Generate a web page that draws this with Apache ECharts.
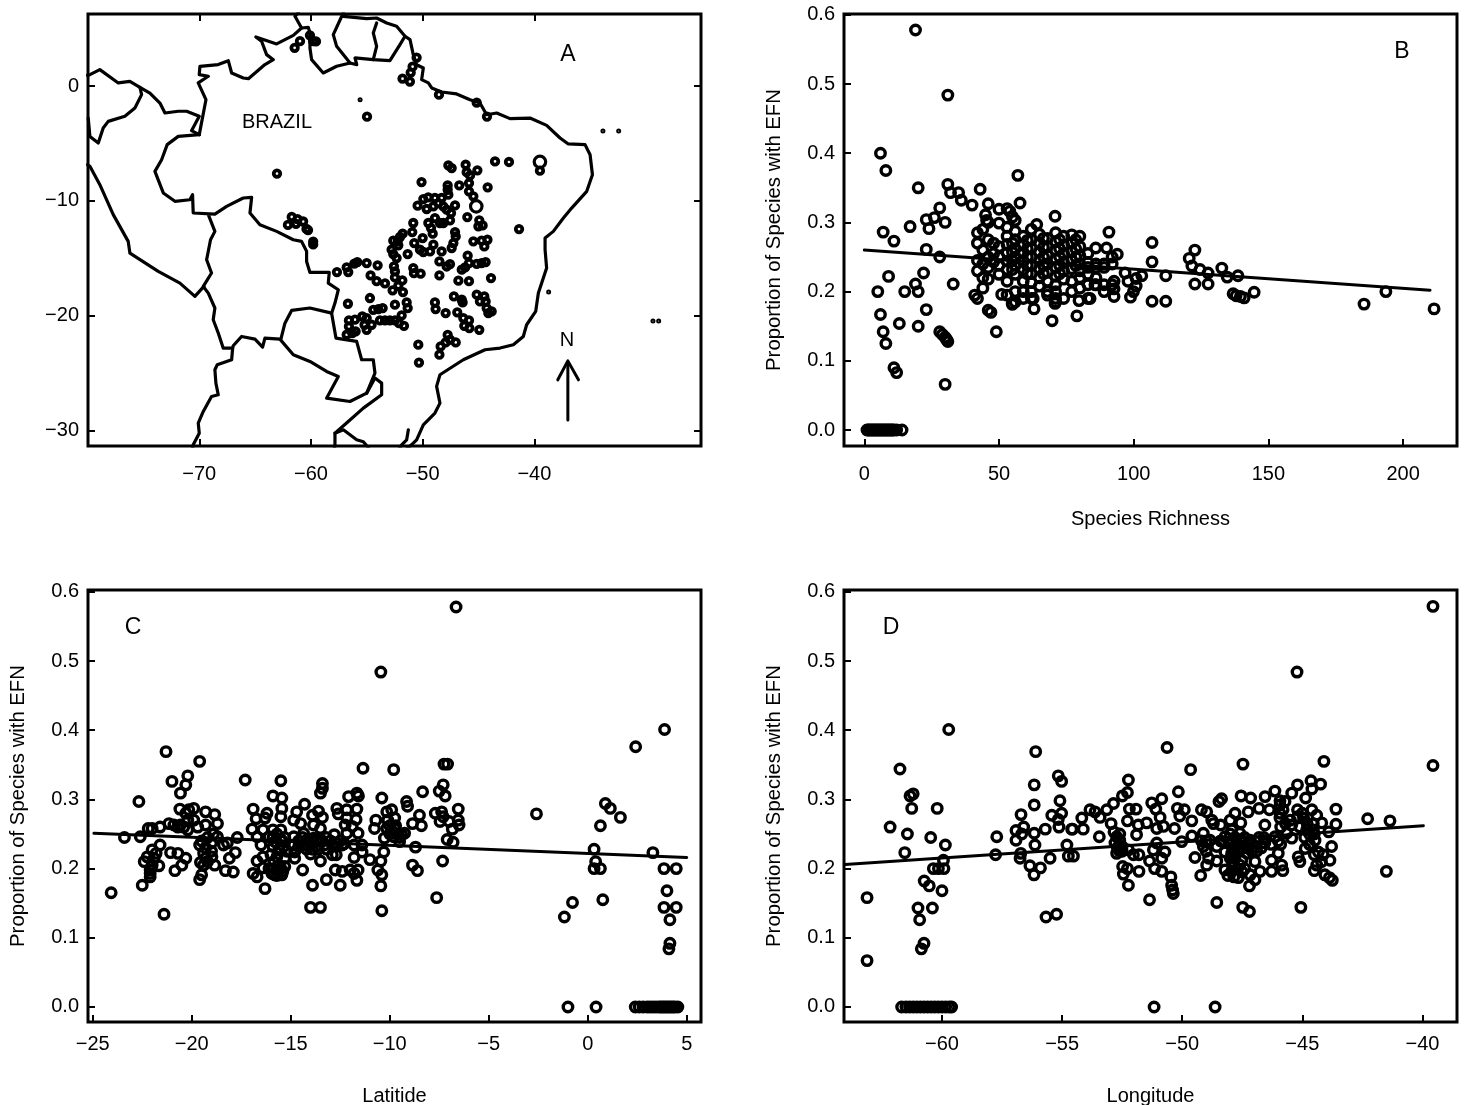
<!DOCTYPE html>
<html><head><meta charset="utf-8">
<style>html,body{margin:0;padding:0;background:#fff}#c{width:1468px;height:1105px}</style>
<script src="https://cdn.jsdelivr.net/npm/echarts@6/dist/echarts.min.js"></script>
</head><body><div id="c"></div>
<script>
// ---------- tick labels ----------
const mapLonTicks=[-70,-60,-50,-40];
const mapLatTicks=[-30,-20,-10,0];
const propTicks=[0,0.1,0.2,0.3,0.4,0.5,0.6];
const richTicks=[0,50,100,150,200];
const latTicks=[-25,-20,-15,-10,-5,0,5];
const lonTicks=[-60,-55,-50,-45,-40];

// ---------- panel A: borders [lon,lat] ----------
const borderNorth=[[-70,-4.23],[-69.4,-1.18],[-70.09,.28],[-69.19,.86],[-70,1],[-69.94,1.73],[-68.3,1.88],[-67.4,2.22],[-67.1,1.15],[-66.06,.71],[-65.6,.65],[-64.12,1.88],[-63.37,2.31],[-63.97,2.75],[-64.42,3.91],[-64.93,4.29],[-63.07,3.68],[-61.58,4.43],[-60.84,5.07],[-61.43,6.09],[-61.13,6.4]];
const borderGuiana=[[-60.84,5.07],[-60.24,5.13],[-60.09,4.64],[-60.09,3.33],[-59.94,2.31],[-58.9,1.15],[-57.7,1.73],[-56.5,2.02],[-55.9,1.87],[-56.06,2.46],[-54.42,2.31],[-52.93,2.22],[-52.03,3.62],[-51.58,4.35]];
const borderGuyanaSuriname=[[-57.1,6.4],[-58,4.49],[-57.7,3.47],[-56.5,2.02]];
const borderSurinameFG=[[-54.42,2.31],[-54.12,3.47],[-54.42,4.64],[-54.12,5.51]];
const coastAtlantic=[[-57.1,6.09],[-55.01,5.89],[-54.12,5.94],[-53.22,5.51],[-52.33,5.22],[-51.58,4.35],[-51.13,4.06],[-50.84,2.75],[-50.54,1.87],[-49.94,1.58],[-50.09,.57],[-49.49,.28],[-49.19,-.16],[-48.3,-.51],[-46.96,-.68],[-45.76,-1.18],[-44.87,-1.47],[-44.27,-2.49],[-43.37,-2.34],[-42.18,-2.83],[-40.39,-2.78],[-38.9,-3.42],[-37.7,-4.52],[-36.96,-5.04],[-35.46,-5.1],[-35.01,-5.98],[-34.8,-7.72],[-35.31,-9.17],[-36.66,-10.63],[-37.4,-11.5],[-38.3,-12.66],[-39.04,-13.24],[-39.04,-14.26],[-38.9,-15.86],[-39.64,-18.04],[-39.88,-19.64],[-40.69,-20.8],[-40.99,-21.82],[-41.88,-22.54],[-43.07,-22.83],[-44.42,-22.98],[-46.36,-23.85],[-48.45,-25.16],[-48.75,-26.17],[-48.45,-27.63],[-48.9,-28.5],[-49.94,-29.52],[-50.54,-30.83],[-51,-31.27],[-51.73,-31.85]];
const coastLagoon=[[-51.28,-29.96],[-51.43,-30.83],[-51.88,-31.27],[-52.2,-31.8]];
const borderPeruColombia=[[-70,-4.23],[-70.69,-3.88],[-70,-2.63],[-71.13,-2.19],[-71.88,-2.19],[-73.07,-2.34],[-73.52,-1.47],[-74.42,-.6],[-75.31,-.1],[-76.21,.42],[-77.25,.28],[-78.9,1.44],[-79.79,1],[-80,.94]];
const borderEcuador=[[-75.31,-.1],[-75.16,-.74],[-75.76,-1.9],[-76.66,-2.63],[-78.15,-3.07],[-78.6,-3.65],[-79.04,-4.96],[-79.79,-4.38],[-79.94,-2.78]];
const borderWestBrazil=[[-70,-4.23],[-71.88,-4.38],[-72.87,-5.1],[-73.37,-6.41],[-73.97,-7.43],[-73.22,-9.31],[-72.18,-10.04],[-70.84,-9.9],[-70.6,-9.46],[-70.54,-11.06],[-68.6,-11.15],[-67.55,-10.48],[-66.06,-9.75],[-65.31,-9.69],[-65.46,-11.06],[-64.57,-12.08],[-63.07,-12.66],[-61.58,-13.39],[-60.84,-13.53],[-60.39,-14.4],[-60.39,-15.28],[-60.09,-16.24],[-58.36,-16.24],[-58.45,-17.17],[-57.55,-17.75],[-57.85,-18.91],[-58.15,-19.79],[-57.76,-21.96],[-55.91,-22.25],[-55.46,-23.85],[-54.42,-23.85],[-54.27,-25.01],[-55.01,-26.76],[-56.51,-27.49],[-58.6,-27.2],[-57.55,-25.31],[-58.6,-24.87],[-60.09,-24],[-61.58,-23.41],[-62.78,-22.05],[-64.12,-21.96],[-64.33,-22.75],[-65.01,-22.05],[-66.21,-21.82],[-66.96,-22.63],[-67.01,-22.84],[-67.85,-22.84],[-68.3,-21.52],[-68.75,-20.36],[-68.6,-19.34],[-69.19,-18.04],[-69.64,-17.46],[-68.9,-16.29],[-69.34,-15.13],[-68.99,-13.39],[-68.6,-12.66],[-69.19,-11.2]];
const borderChile=[[-67.01,-22.84],[-67.1,-23.85],[-68.39,-24.29],[-68.6,-24.72],[-68.51,-25.89],[-68.3,-26.9],[-68.9,-27.05],[-69.64,-28.36],[-70.09,-29.37],[-70,-30.25],[-70.54,-31.27],[-70.69,-32]];
const coastPeru=[[-80,-6.85],[-79.79,-6.99],[-78.9,-8.59],[-77.7,-11.2],[-76.36,-13.53],[-76.21,-14.55],[-73.67,-16.15],[-71.73,-17.17],[-70.39,-18.33],[-69.58,-17.46]];
const borderParaguay=[[-58.15,-19.79],[-60.09,-19.34],[-61.73,-19.55],[-62.33,-20.66],[-62.69,-22.05]];
const borderMisiones=[[-55.01,-26.76],[-54.27,-25.45],[-53.67,-25.89],[-53.67,-26.9],[-55.31,-28.07],[-56.81,-29.37],[-57.85,-30.25],[-57.85,-31.27],[-57.94,-31.7]];
const borderUruguay=[[-57.85,-30.25],[-57.1,-29.96],[-55.91,-30.83],[-55.31,-31],[-54.87,-31.5]];
const northArrowShaft=[[-37,-29.1],[-37,-24.2]];
const northArrowHead=[[-37.9,-25.6],[-37,-23.95],[-36.05,-25.6]];

// ---------- panel A: study sites [lon,lat] ----------
const mapSites=[[-47.7,-6.9],[-47.4,-7.14],[-46.15,-6.85],[-46.06,-7.5],[-45.76,-7.78],[-45.1,-7.34],[-43.52,-6.56],[-42.27,-6.61],[-44.18,-8.82],[-50.1,-8.36],[-46.72,-8.65],[-47.76,-8.65],[-47.76,-9.03],[-47.7,-9.46],[-45.85,-8.45],[-45.85,-9.17],[-45.46,-9.6],[-50.45,-10.42],[-49.94,-9.84],[-49.5,-9.7],[-48.9,-9.75],[-48.3,-9.75],[-48.6,-10.2],[-48.15,-10.48],[-49.64,-10.71],[-49.04,-10.48],[-47.85,-10.77],[-47.46,-11.06],[-47.1,-10.4],[-46,-11.41],[-44.93,-11.7],[-44.63,-12.14],[-45.01,-12.22],[-41.37,-12.46],[-50.84,-11.93],[-50.93,-12.72],[-51.79,-12.86],[-52.03,-13.15],[-52.63,-13.47],[-52.24,-13.53],[-52.18,-13.88],[-50,-13.24],[-50.75,-13.68],[-51.34,-14.64],[-52.78,-14.26],[-52.63,-14.64],[-52.33,-14.99],[-50.24,-14.26],[-49.94,-14.46],[-49.34,-14.41],[-49.04,-13.82],[-49.1,-12.86],[-49.25,-12.37],[-49.49,-11.93],[-48.9,-11.5],[-48.45,-11.93],[-47.55,-11.7],[-48.15,-11.93],[-47.1,-12.72],[-47.04,-13.1],[-47.25,-13.68],[-47.4,-14.11],[-48.3,-14.41],[-45.46,-13.53],[-44.72,-13.47],[-44.2,-13.39],[-44.48,-13.97],[-45.97,-14.78],[-48.5,-15.28],[-47.85,-15.72],[-47.55,-15.51],[-48.5,-16.5],[-46.5,-16],[-46.2,-15.8],[-45.85,-15.42],[-45.16,-15.5],[-44.72,-15.42],[-44.36,-15.34],[-46.8,-16.96],[-45.85,-17],[-43.88,-16.73],[-47.2,-18.33],[-46.5,-18.62],[-46.42,-18.85],[-45.16,-18.18],[-44.48,-18.33],[-44.87,-18.77],[-44.36,-18.77],[-44.27,-19.35],[-43.82,-19.64],[-44.12,-19.78],[-48.9,-18.85],[-48.84,-19.43],[-47.94,-19.78],[-46.9,-19.72],[-46.36,-20.22],[-45.85,-20.42],[-46.27,-20.89],[-45.82,-21.09],[-44.93,-21.24],[-47.76,-21.68],[-47.55,-22.1],[-47.94,-22.34],[-47.04,-22.34],[-48.39,-22.69],[-48.5,-23.41],[-50.39,-22.54],[-50.33,-24.1],
[-57.67,-16.21],[-56.8,-15.8],[-56.66,-16.21],[-56.12,-15.48],[-55.85,-15.34],[-55.01,-15.42],[-54.03,-15.62],[-54.66,-16.5],[-54.12,-17],[-53.37,-17.2],[-52.57,-15.71],[-52.48,-16.15],[-52.48,-16.67],[-51.82,-16.94],[-52.18,-17.4],[-52.69,-17.8],[-51.76,-17.95],[-50.84,-15.86],[-50.78,-16.3],[-50.18,-16.35],[-56.69,-18.97],[-54.72,-18.47],[-54.42,-19.5],[-53.97,-19.43],[-53.58,-19.35],[-52.48,-19.05],[-51.43,-18.85],[-51.34,-19.35],[-51.88,-19.99],[-53.82,-20.42],[-53.37,-20.42],[-52.93,-20.42],[-52.48,-20.42],[-52.12,-20.65],[-51.67,-20.89],[-56.6,-20.42],[-56.06,-20.36],[-56.6,-20.95],[-55.4,-20.07],[-55.01,-20.22],[-55.2,-20.8],[-54.57,-20.8],[-55.01,-21.24],[-56,-21.38],[-56.8,-21.67],[-56.3,-21.53],
[-61.46,3.34],[-60.98,3.92],[-60.09,4.43],[-59.8,3.92],[-59.55,3.9],[-54.98,-2.66],[-63.04,-7.62],[-61.72,-11.4],[-61.2,-11.6],[-60.7,-11.8],[-61.34,-12],[-62.06,-12.1],[-60.4,-12.45],[-60.26,-12.55],[-59.8,-13.55],[-59.8,-13.8],
[-50.54,2.49],[-50.9,1.7],[-51.07,1.18],[-51.8,.65],[-51.14,.4],[-48.54,-.74],[-45.16,-1.44],[-44.24,-2.65],[-39.5,-7.37]];
const mapSitesLarge=[[-39.5,-6.6],[-45.2,-10.48]];
const mapSitesTiny=[[-55.6,-1.18],[-33.86,-3.9],[-32.45,-3.9],[-38.72,-17.95],[-29.38,-20.47],[-28.87,-20.47]];

// ---------- panel B: proportion vs richness ----------
const richZero=[1,1.5,2,2.5,3,3.5,4,4.5,5,5.5,6,6.5,7,7.5,8,8.5,9,9.5,10,10.5,11,12,14];
const richOutliers=[[19,.578],[31,.484],[6,.4],[8,.375],[57,.368],[20,.35],[31,.355],[32,.343],[35,.343],[36,.332],[40,.325],[43,.348],[46,.327],[57.8,.328],[28,.321],[50,.319],[53,.32],[54,.316],[55,.308],[45,.311],[45.4,.303],[50,.299],[56,.303],[70.8,.309],[23,.304],[26,.307],[30,.3],[24,.291],[17,.294],[7,.286],[11,.273],[23,.261],[28,.25],[9,.222],[5,.2],[15,.2],[19,.211],[20,.2],[22,.227],[33,.211],[6,.167],[7,.142],[8,.125],[13,.154],[20,.15],[23,.174],[11,.09],[12,.083],[30,.066],[28,.142],[29,.138],[30,.134],[30.5,.131],[31,.128],[49,.142],[41,.195],[42,.19],[46,.173],[47,.17],[44,.205],[46,.218],[51,.196],[55,.182],[63,.175],[69.7,.158],[78.9,.165],[70.8,.183],[90.8,.286],[106.8,.271],[106.8,.243],[106.8,.186],[64,.297],[122.7,.26],[120.6,.248],[121.6,.237],[124.6,.232],[127.6,.227],[132.7,.234],[134.7,.221],[138.7,.223],[111.9,.223],[122.7,.211],[127.6,.211],[111.9,.186],[136.9,.197],[138,.194],[139.6,.193],[141,.191],[144.7,.199],[185.5,.182],[193.6,.2],[211.5,.175],[96.8,.227],[103,.223],[100.9,.219],[97.9,.215],[100.9,.208],[99.9,.2],[98.8,.192],[92.7,.193],[92.7,.204],[92.7,.215],[93.9,.254],[85.9,.263],[89.9,.263],[54.9,.182],[62.7,.19],[79.7,.187],[83.8,.19],[85.6,.21]];
const richDense=[[42,[.285,.27,.245,.23]],[44,[.29,.26,.24,.22]],[46,[.3,.275,.25,.235]],[48,[.27,.255,.243]],[50,[.265,.25,.238,.225]],[53,[.293,.28,.268,.256,.244,.232,.215,.195]],[55,[.27,.257,.245,.232]],[56,[.287,.275,.262,.25,.238,.225,.2,.185]],[59,[.28,.268,.256,.244,.232,.215,.2,.19]],[60.5,[.274,.262,.25,.238,.226]],[62,[.29,.275,.263,.25,.238,.226,.213,.2,.19]],[65,[.283,.27,.257,.245,.233,.22,.208]],[66.5,[.277,.264,.25,.238,.226]],[68,[.277,.265,.252,.24,.228,.215,.2,.195]],[71,[.285,.272,.26,.247,.235,.222,.21,.2,.19,.185]],[72.5,[.275,.262,.25,.238,.226]],[74,[.28,.267,.255,.242,.23,.218,.19]],[77,[.282,.27,.258,.245,.233,.215,.2]],[78.5,[.275,.262,.25,.238]],[80,[.28,.265,.252,.24,.23,.22,.205]],[83,[.255,.242,.235,.225,.21,.19]],[86,[.24,.235,.22,.21]],[89,[.24,.235,.21,.2]],[92,[.25,.24,.21]]];
const richFitLine=[[0,.26],[210,.202]];

// ---------- panel C: proportion vs latitude ----------
const latPoints=[[-6.65,.578],[-10.45,.484],[3.88,.401],[2.42,.376],[-2.59,.279],[.89,.294],[1.14,.287],[1.65,.274],[.64,.262],[.32,.228],[.4,.21],[.32,.2],[.64,.2],[3.29,.223],[3.85,.2],[4.47,.2],[4,.168],[3.85,.144],[4.47,.144],[4.15,.126],[4.15,.092],[4.1,.084],[-.77,.151],[-1.18,.13],[.76,.155],
[-24.07,.165],[-23.4,.245],[-22.67,.297],[-22.5,.176],[-22.6,.246],[-22.2,.258],[-22,.258],[-21.6,.26],[-21.3,.369],[-21.4,.134],[-21,.326],[-20.2,.334],[-20.3,.321],[-20.57,.309],[-20.6,.286],[-20.15,.285],[-19.9,.287],[-19.6,.355],[-19.3,.282],[-18.84,.278],[-18.7,.265],[-21.15,.265],[-20.9,.263],[-20.57,.263],[-20.2,.256],[-19.7,.26],[-19.3,.263],[-22.4,.21],[-22.1,.198],[-22.1,.188],[-22.1,.193],[-22.25,.217],[-22,.227],[-21.6,.234],[-21.66,.204],[-21.07,.223],[-20.7,.222],[-20.3,.215],[-20.5,.205],[-20.85,.197],[-19.6,.234],[-19.4,.222],[-19.56,.209],[-19.3,.215],[-18.84,.205],[-18.98,.217],[-18.3,.197],[-17.9,.195],[-19.5,.191],[-19.6,.184],[-18.1,.215],[-17.8,.223],[-18.4,.234],[-18.2,.237],[-18.7,.246],[-19,.237],[-17.7,.245],[-17.3,.328],[-16.9,.286],[-16.75,.272],[-16.95,.257],[-16.7,.246],[-16.5,.234],[-16.7,.211],[-16.9,.193],[-16.7,.188],[-16.3,.171],[-16.4,.201],[-16.2,.28],[-16.3,.273],[-15.9,.305],[-15.5,.327],[-15.45,.302],[-15.45,.287],[-15.5,.275],[-16.4,.256],[-15.9,.256],[-15.5,.256],[-16.1,.246],[-15.8,.239],[-15.45,.241],[-15.9,.232],[-15.6,.227],[-15.36,.232],[-16.4,.217],[-16,.22],[-15.7,.217],[-15.95,.193],[-15.7,.198],[-15.45,.191],[-15.3,.203],[-15.8,.191],[-14.8,.215],[-14.4,.198],[-13.9,.176],[-14,.144],[-13.5,.144],[-13.2,.184],[-12.5,.176],[-13.4,.323],[-13.4,.316],[-13.5,.309],[-14.3,.293],[-14.7,.282],[-13.9,.277],[-13.6,.283],[-13.4,.274],[-14.85,.27],[-14.5,.265],[-13.85,.263],[-13.5,.258],[-14.85,.246],[-14.35,.251],[-14.2,.241],[-13.85,.244],[-13.5,.241],[-14.85,.234],[-14.35,.234],[-14,.234],[-13.7,.232],[-13.3,.234],[-14.8,.224],[-14,.221],[-13.5,.211],[-12.8,.249],[-12.7,.237],[-12.4,.234],[-12.9,.22],[-12.7,.22],[-12.75,.198],[-12.4,.196],[-12.67,.287],[-12.6,.279],[-12.08,.304],[-11.66,.309],[-11.58,.305],[-12.17,.285],[-11.66,.286],[-12.17,.273],[-11.7,.271],[-12.25,.263],[-11.9,.261],[-12.17,.251],[-11.6,.251],[-11.8,.234],[-11.4,.234],[-11.8,.216],[-11.4,.224],[-12,.198],[-11.6,.198],[-11.8,.193],[-11.66,.183],[-11,.213],[-11.35,.345],[-10.4,.302],[-10.7,.27],[-10.77,.258],[-10.6,.198],[-10.45,.211],[-10.4,.191],[-10.45,.175],[-10.4,.139],[-10.3,.224],[-10.27,.244],[-10.15,.282],[-9.9,.285],[-9.8,.343],[-10.1,.27],[-9.75,.273],[-10.15,.258],[-9.75,.258],[-9.8,.246],[-9.4,.249],[-9.5,.239],[-9.25,.251],[-9.15,.297],[-9.1,.29],[-8.85,.265],[-8.5,.277],[-8.4,.262],[-8.34,.311],[-8.7,.231],[-8.85,.205],[-8.6,.197],[-7.7,.28],[-7.5,.312],[-7.3,.321],[-7.2,.305],[-7.26,.351],[-7.08,.351],[-7.38,.282],[-7.3,.275],[-7.46,.268],[-7,.268],[-6.54,.286],[-6.54,.27],[-6.5,.263],[-6.84,.257],[-7.1,.242],[-6.8,.238],[-7.33,.211],[-7.63,.158],
[-15.9,.245],[-15.7,.25],[-15.5,.24],[-15.3,.245],[-15.2,.225],[-15.3,.215],[-15.6,.205],[-15.85,.21],[-15.5,.2],[-15.7,.19],[-15.4,.196],[-15.9,.2],[-16.1,.2],[-14.6,.24],[-14.4,.245],[-14.1,.24],[-13.9,.24],[-13.7,.24],[-13.4,.24],[-13.2,.245],[-13,.24],[-12.9,.235],[-14.6,.232],[-14.2,.228],[-13.9,.228],[-13.6,.228],[-13.2,.228],[-12.5,.24],[-12.3,.236],[-19.5,.24],[-19.2,.245],[-19,.225],[-19.3,.23],[-18.9,.25],[-19.2,.21],[-19.4,.205],[-22,.205],[-21.9,.215],[-21.8,.222],[-10,.25],[-9.9,.255],[-9.6,.25],[-9.7,.262],[-9.5,.245],[-10,.262],[-20.7,.26],[-20.4,.26],[-20.2,.27],[-20.3,.28],[-19.9,.27]];
const latZero=[-1,.42,2.4,2.6,2.8,3,3.15,3.3,3.45,3.6,3.7,3.8,3.9,4,4.1,4.2,4.3,4.4,4.55];
const latFitLine=[[-24.94,.251],[5,.216]];

// ---------- panel D: proportion vs longitude ----------
const lonPoints=[[-45.22,.484],[-39.56,.579],[-39.56,.349],[-50.63,.375],[-59.72,.401],[-61.75,.344],[-61.33,.305],[-61.2,.308],[-61.26,.287],[-60.2,.287],[-62.16,.26],[-61.44,.25],[-60.47,.245],[-59.86,.234],[-61.55,.223],[-59.94,.212],[-60.36,.2],[-60.15,.2],[-59.92,.2],[-60.74,.182],[-60.53,.175],[-60,.168],[-61,.143],[-60.4,.143],[-60.93,.126],[-60.75,.092],[-60.86,.084],[-63.12,.158],[-63.12,.067],[-57.77,.22],[-57.72,.246],[-56.1,.369],[-56.16,.321],[-56.16,.292],[-56.71,.278],[-56.6,.26],[-56.92,.255],[-56.92,.241],[-56.68,.25],[-56.16,.251],[-56.13,.234],[-56.72,.222],[-56.75,.215],[-56.34,.204],[-55.9,.201],[-56.17,.191],[-55.5,.215],[-55.67,.13],[-55.23,.134],[-55.7,.257],[-55.43,.277],[-55.09,.298],[-55.16,.334],[-55.02,.326],[-55.02,.28],[-55.16,.271],[-55.13,.26],[-54.6,.257],[-54.8,.234],[-54.74,.218],[-54.53,.218],
[-54.57,.257],[-54.12,.257],[-54.18,.273],[-53.84,.285],[-53.63,.282],[-53.42,.274],[-53.14,.285],[-52.86,.294],[-52.49,.305],[-52.28,.31],[-52.24,.328],[-52.2,.286],[-51.92,.286],[-52.28,.269],[-52.96,.265],[-53.45,.246],[-52.84,.253],[-52.73,.246],[-52.6,.241],[-52.8,.237],[-52.5,.232],[-52.73,.222],[-52.24,.227],[-52.03,.22],[-51.8,.22],[-51.36,.211],[-52.48,.203],[-52.28,.2],[-52.45,.192],[-51.8,.196],[-52.24,.176],[-51.36,.155],[-51.9,.249],[-51.83,.263],[-51.48,.266],[-51.27,.295],[-50.85,.301],[-51.1,.286],[-50.92,.274],[-51.06,.258],[-50.78,.261],[-50.32,.258],[-50.16,.311],[-49.65,.343],[-50.2,.287],[-49.91,.285],[-50.1,.276],[-49.6,.269],[-49.6,.247],[-50.02,.239],[-51.06,.237],[-51.2,.227],[-50.72,.224],[-50.85,.215],[-51.15,.2],[-50.85,.196],[-50.47,.188],[-50.44,.176],[-50.4,.169],[-50.37,.164],[-49.47,.216],[-49.23,.19],[-48.9,.215],[-48.98,.205],[-48.56,.151],[-47.48,.144],[-47.2,.138],[-45.06,.144],[-41.5,.196],[-42.28,.272],[-41.35,.269],[-43.6,.286],[-43.6,.264],[-44.1,.355],[-44.24,.322],[-44.64,.327],[-44.6,.315],[-45.2,.321],[-45.44,.309],[-44.86,.302],[-46.14,.312],[-46.55,.304],[-47.15,.302],[-47.55,.305],[-47.47,.351],[-48.36,.301],[-48.47,.297],[-49.2,.285],[-48.98,.282],[-48.77,.27],[-47.8,.28],[-47.25,.282],[-46.8,.287],[-46.37,.285],[-45.93,.298],[-45.72,.297],[-45.2,.285],[-44.6,.285],[-44.4,.277],[-44.19,.266],[-47.56,.266],[-48.7,.265],[-48.4,.263],[-48,.27],[-46.56,.263],[-45.93,.273],[-45.44,.263],[-44.95,.273],[-44.54,.265],[-43.9,.253],[-44.82,.256],
[-49.12,.251],[-48.84,.241],[-49.12,.232],[-48.56,.232],[-48.22,.246],[-47.94,.256],[-47.6,.251],[-48,.237],[-47.73,.234],[-47.45,.239],[-47.17,.241],[-46.9,.239],[-47,.232],[-46.56,.237],[-48.22,.224],[-47.94,.222],[-47.6,.227],[-47.3,.222],[-48.56,.211],[-47.9,.21],[-47.52,.212],[-46.97,.21],[-48.22,.198],[-47.94,.196],[-47.66,.187],[-47.17,.191],[-46.97,.184],[-47.2,.175],[-46.76,.196],[-46.28,.196],[-46.28,.212],[-46,.222],[-45.86,.205],[-45.81,.197],[-46.14,.246],[-45.65,.251],[-45.44,.244],[-45.17,.217],[-45.1,.21],[-44.88,.229],[-44.47,.241],[-44.33,.224],[-44.13,.22],[-44.2,.21],[-43.85,.212],[-43.78,.232],[-44.5,.197],[-44.06,.191],[-43.87,.187],[-43.75,.183],[-44.54,.256],[-45.93,.292],[-45.93,.28],
[-48,.25],[-47.8,.245],[-47.6,.24],[-47.4,.245],[-47.2,.235],[-47.9,.23],[-47.7,.225],[-47.5,.23],[-47.3,.23],[-47.1,.225],[-46.9,.225],[-46.7,.23],[-48,.215],[-47.8,.215],[-47.6,.205],[-47.4,.2],[-47.7,.2],[-47.9,.205],[-48.1,.19],[-47.85,.188],[-47.5,.195],[-47.9,.24],[-46.6,.245],[-46.8,.245],[-48.4,.24],[-49,.24],[-49.2,.24],[-49,.225],[-52.6,.225],[-52.7,.23],[-52.5,.225],[-52.6,.25],[-45.9,.26],[-45.7,.265],[-45.5,.27],[-45.8,.285],[-45.2,.275],[-45,.28],[-45.1,.26],[-44.8,.265],[-44.7,.25],[-44.5,.25],[-44.9,.245],[-44.7,.235],[-44.5,.22],[-44.4,.205],[-46,.24],[-45.9,.235],[-46.3,.235]];
const lonZero=[-61.68,-61.5,-61.35,-61.2,-61.05,-60.9,-60.75,-60.6,-60.45,-60.3,-60.15,-60,-59.85,-59.7,-59.6,-51.17,-48.63];
const lonFitLine=[[-64.04,.206],[-39.96,.262]];

// ---------- build ----------
const FONT='"Liberation Sans",Arial,Helvetica,sans-serif';
const minus=s=>String(s).replace('-','\u2212');
const toPairs=rows=>rows.flatMap(([x,ys])=>ys.map(y=>[x,y]));
const zeroRow=xs=>xs.map(x=>[x,0]);
const tickStyle={show:true,inside:true,length:7,lineStyle:{color:'#000',width:2}};
const labelBase={color:'#000',fontFamily:FONT,fontSize:20};

function xAxis(g,min,max,ticks,name,margin,nameGap){
  return {type:'value',gridIndex:g,min,max,splitLine:{show:false},axisLine:{show:false,onZero:false},
    axisTick:Object.assign({customValues:ticks},tickStyle),
    axisLabel:Object.assign({customValues:ticks,margin,formatter:minus},labelBase),
    name,nameLocation:'middle',nameGap,nameTextStyle:{color:'#000',fontFamily:FONT,fontSize:20}};
}
function yAxis(g,min,max,ticks,name,fmt){
  return {type:'value',gridIndex:g,min,max,splitLine:{show:false},axisLine:{show:false,onZero:false},
    axisTick:Object.assign({customValues:ticks},tickStyle),
    axisLabel:Object.assign({customValues:ticks,margin:9,padding:[4,0,0,0],formatter:fmt},labelBase),
    name,nameLocation:'middle',nameGap:60,nameTextStyle:{color:'#000',fontFamily:FONT,fontSize:20.3}};
}
const mirror=(ax,pos)=>Object.assign({},ax,{position:pos,name:'',axisLabel:{show:false,customValues:ax.axisTick.customValues}});
const prop=v=>Number(v).toFixed(1);
const PROP='Proportion of Species with EFN';

const gridBase={containLabel:false,outerBoundsMode:'none',show:true,borderColor:'#000',borderWidth:3,backgroundColor:'transparent'};
const grids=[[88,14],[844,14],[88,590],[844,590]].map(([left,top])=>Object.assign({left,top,width:613,height:432},gridBase));

const ax0=xAxis(0,-79.96,-25.08,mapLonTicks,'',18,63);
const ay0=yAxis(0,-31.37,6.29,mapLatTicks,'',minus);
const xAxes=[ax0,mirror(ax0,'top'),
  xAxis(1,-7.54,220,richTicks,'Species Richness',18,63),
  xAxis(2,-25.24,5.72,latTicks,'Latitide',12,64),
  xAxis(3,-64.08,-38.56,lonTicks,'Longitude',12,64)];
const yAxes=[ay0,mirror(ay0,'right'),
  yAxis(1,-.0231,.6012,propTicks,PROP,prop),
  yAxis(2,-.0217,.6026,propTicks,PROP,prop),
  yAxis(3,-.0217,.6026,propTicks,PROP,prop)];

const ring=(x,y,data,size=9.5,bw=3.4)=>({type:'scatter',xAxisIndex:x,yAxisIndex:y,data,symbol:'circle',symbolSize:size,
  itemStyle:{color:'rgba(0,0,0,0)',borderColor:'#000',borderWidth:bw,opacity:1},silent:true,animation:false});
const line=(x,y,data,w=3)=>({type:'line',xAxisIndex:x,yAxisIndex:y,data,symbol:'none',silent:true,animation:false,
  lineStyle:{color:'#000',width:w,join:'round',cap:'round'}});

const borders=[borderNorth,borderGuiana,borderGuyanaSuriname,borderSurinameFG,coastAtlantic,coastLagoon,borderPeruColombia,borderEcuador,borderWestBrazil,borderChile,coastPeru,borderParaguay,borderMisiones,borderUruguay];
const series=[
  ...borders.map(b=>line(0,0,b,3.2)),
  line(0,0,northArrowShaft,3),line(0,0,northArrowHead,3),
  ring(0,0,mapSites,6.5,3.8),
  ring(0,0,mapSitesLarge,11.5,3.2),
  ring(0,0,mapSitesTiny,3,2),
  line(2,2,richFitLine),
  ring(2,2,[...zeroRow(richZero),...richOutliers,...toPairs(richDense)]),
  line(3,3,latFitLine),
  ring(3,3,[...zeroRow(latZero),...latPoints]),
  line(4,4,lonFitLine),
  ring(4,4,[...zeroRow(lonZero),...lonPoints])
];
const txt=(x,y,text,size=20)=>({type:'text',x,y,style:{text,fill:'#000',font:size+'px '+FONT,textAlign:'center',textVerticalAlign:'middle'},silent:true,z:10});
const chart=echarts.init(document.getElementById('c'),null,{renderer:'canvas'});
chart.setOption({animation:false,backgroundColor:'#fff',grid:grids,xAxis:xAxes,yAxis:yAxes,series,
  graphic:[txt(277,122,'BRAZIL',20),txt(568,55,'A',23),txt(567,340,'N',20),txt(1402,52,'B',23),txt(133,628,'C',23),txt(891,628,'D',23)]});
</script></body></html>
